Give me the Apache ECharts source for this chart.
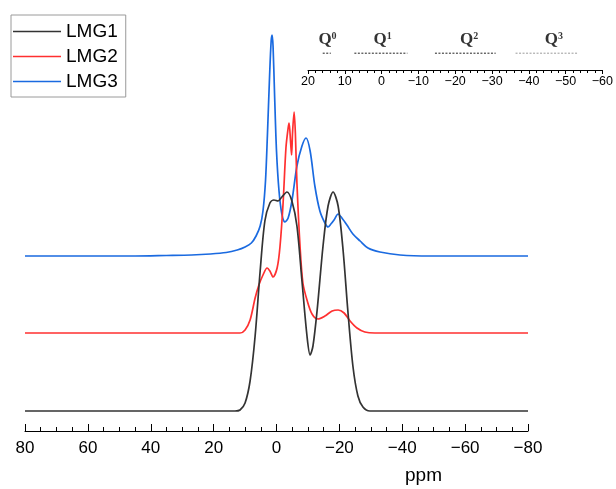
<!DOCTYPE html>
<html>
<head>
<meta charset="utf-8">
<script src="https://cdn.jsdelivr.net/npm/echarts@6/dist/echarts.min.js"></script>
<style>html,body{margin:0;padding:0;background:#fff}#c{width:616px;height:489px}</style>
</head>
<body>
<div id="c"></div>
<script>
// ---- data (ppm vs. relative intensity above each trace's own baseline) ----
const seriesNames = ['LMG1', 'LMG2', 'LMG3'];
const seriesColors = ['#333333', '#ff3030', '#1a6ae0'];
const baselines = [20, 98, 175]; // vertical stacking offsets of each trace

const lmg1Ppm = [80, 30, 13.2, 11.6, 10.0, 8.4, 6.8, 5.2, 3.7, 2.1, 0.8, -0.5, -1.7, -3.3, -4.9, -6.5, -8.1, -9.7, -10.7, -11.6, -12.9, -14.8, -16.4, -18.0, -19.6, -21.2, -22.7, -24.3, -25.9, -27.5, -29.7, -80];
const lmg1Int = [0, 0, 0, 1, 8, 30, 75, 140, 190, 208, 211, 210, 214, 219, 210, 185, 130, 75, 56, 65, 100, 165, 205, 219, 205, 160, 100, 45, 15, 4, 0, 0];

const lmg2Ppm = [80, 30, 11.6, 10.0, 8.4, 6.8, 5.6, 4.3, 3.0, 2.1, 1.1, -0.2, -1.1, -2.1, -3.0, -3.7, -4.0, -4.5, -4.8, -5.1, -5.6, -6.0, -6.5, -7.5, -8.4, -9.7, -11.3, -13.2, -15.4, -17.7, -19.6, -21.5, -23.4, -25.6, -28.1, -31.3, -80];
const lmg2Int = [0, 0, 0, 3, 13, 35, 48, 58, 65, 62, 56, 65, 86, 130, 185, 205, 210, 190, 178, 200, 221, 200, 150, 86, 50, 33, 19, 14, 17, 22, 23, 20, 12, 5, 1, 0, 0];

const lmg3Ppm = [80, 45, 35, 27, 21, 16, 12.5, 10.0, 8.0, 6.5, 5.2, 4.3, 3.5, 2.9, 2.2, 1.7, 1.4, 1.1, 0.6, 0.0, -0.8, -1.7, -2.7, -3.7, -4.9, -6.5, -8.1, -9.4, -10.7, -12.2, -13.8, -15.4, -16.4, -17.3, -18.3, -19.6, -20.8, -22.4, -24.3, -26.6, -29.1, -32.9, -39.3, -48.8, -80];
const lmg3Int = [0, 0, 0.5, 1, 2, 3.5, 6, 9, 13, 20, 30, 45, 75, 120, 180, 215, 221, 210, 160, 105, 65, 42, 34, 38, 55, 90, 110, 118, 105, 70, 45, 33, 29, 32, 36, 42, 38, 31, 22, 15, 8, 4, 1, 0, 0];

const mainTicks = [80, -80, 20];         // min, max, interval (ppm)
const insetTicks = [20, -60, 10];        // min, max, interval (ppm)

const qNames = ['0', '1', '2', '3'];     // Q^n superscripts
const qCenters = [14.7, -0.3, -23.8, -46.8];
const qRanges = [[16, 13.8], [7.4, -7], [-14.5, -31], [-36.4, -53.3]];
const qColors = ['#222', '#222', '#222', '#9a9a9a'];

// ---- build ----
const ppms = [lmg1Ppm, lmg2Ppm, lmg3Ppm];
const ints = [lmg1Int, lmg2Int, lmg3Int];
const FONT = '"Liberation Sans", Arial, sans-serif';
const SERIF = '"Liberation Serif", "Times New Roman", serif';

const series = seriesNames.map((n, k) => ({
  name: n, type: 'line', xAxisIndex: 0, yAxisIndex: 0,
  data: ppms[k].map((p, i) => [p, baselines[k] + ints[k][i]]),
  showSymbol: false, symbol: 'none', smooth: 0.3,
  lineStyle: { color: seriesColors[k], width: 1.7 }, itemStyle: { color: seriesColors[k] },
  z: 3 - k
}));

qRanges.forEach((r, k) => {
  series.push({
    type: 'line', xAxisIndex: 1, yAxisIndex: 1, silent: true,
    data: [[r[0], 0.42], [r[1], 0.42]], symbol: 'none',
    lineStyle: { color: qColors[k], width: 1, type: [2, 1.5] }
  });
});
series.push({
  type: 'scatter', xAxisIndex: 1, yAxisIndex: 1, silent: true, symbolSize: 0,
  data: qCenters.map((c, i) => ({ value: [c, 0.75], name: qNames[i] })),
  label: {
    show: true, position: 'inside',
    formatter: p => '{q|Q}{s|' + p.name + '}',
    rich: {
      q: { fontFamily: SERIF, fontWeight: 'bold', fontSize: 17, color: '#000', lineHeight: 18 },
      s: { fontFamily: SERIF, fontWeight: 'bold', fontSize: 10, color: '#000', verticalAlign: 'top', lineHeight: 18, padding: [0, 0, 8, 0] }
    }
  }
});

const chart = echarts.init(document.getElementById('c'), null, { renderer: 'canvas' });
chart.setOption({
  animation: false,
  backgroundColor: '#fff',
  legend: {
    data: seriesNames, orient: 'vertical', left: 11, top: 15,
    borderColor: '#9a9a9a', borderWidth: 1, padding: [7, 8, 6, 2], itemGap: 6,
    icon: 'rect', itemWidth: 48, itemHeight: 1.5,
    textStyle: { fontFamily: FONT, fontSize: 19, color: '#000', padding: [0, 0, 0, 0] }
  },
  grid: [
    { left: 25, right: 88, top: 0, bottom: 58, containLabel: false },
    { left: 308, right: 10, top: 30, bottom: 419, containLabel: false }
  ],
  xAxis: [
    {
      gridIndex: 0, type: 'value', inverse: true, min: mainTicks[1], max: mainTicks[0], interval: mainTicks[2],
      axisLine: { show: true, onZero: false, lineStyle: { color: '#000', width: 1 } },
      axisTick: { show: true, inside: true, length: 7, lineStyle: { color: '#000' } },
      minorTick: { show: true, splitNumber: 4, length: 4, lineStyle: { color: '#000' } },
      splitLine: { show: false },
      axisLabel: { fontFamily: FONT, fontSize: 17, color: '#000', margin: 9, formatter: v => v < 0 ? '\u2212' + Math.abs(v) : String(v) }
    },
    {
      gridIndex: 1, type: 'value', inverse: true, min: insetTicks[1], max: insetTicks[0], interval: insetTicks[2],
      axisLine: { show: true, onZero: false, lineStyle: { color: '#000', width: 1 } },
      axisTick: { show: true, inside: false, length: 4, lineStyle: { color: '#000' } },
      minorTick: { show: true, splitNumber: 5, length: 2, lineStyle: { color: '#000' } },
      splitLine: { show: false },
      axisLabel: { fontFamily: FONT, fontSize: 12.5, color: '#000', margin: 5, formatter: v => v < 0 ? '\u2212' + Math.abs(v) : String(v) }
    },
    {
      gridIndex: 1, type: 'value', inverse: true, min: insetTicks[1], max: insetTicks[0], interval: insetTicks[2],
      axisLine: { show: false }, axisLabel: { show: false }, splitLine: { show: false },
      axisTick: { show: true, inside: true, length: 4, lineStyle: { color: '#000' } },
      minorTick: { show: true, splitNumber: 5, length: 3, lineStyle: { color: '#000' } }
    }
  ],
  yAxis: [
    { gridIndex: 0, type: 'value', min: 0, max: 431, show: false },
    { gridIndex: 1, type: 'value', min: 0, max: 1, show: false }
  ],
  graphic: [{
    type: 'text', left: 405, top: 466,
    style: { text: 'ppm', font: '19px "Liberation Sans", Arial, sans-serif', fill: '#000' }
  }],
  series: series
});
</script>
</body>
</html>
